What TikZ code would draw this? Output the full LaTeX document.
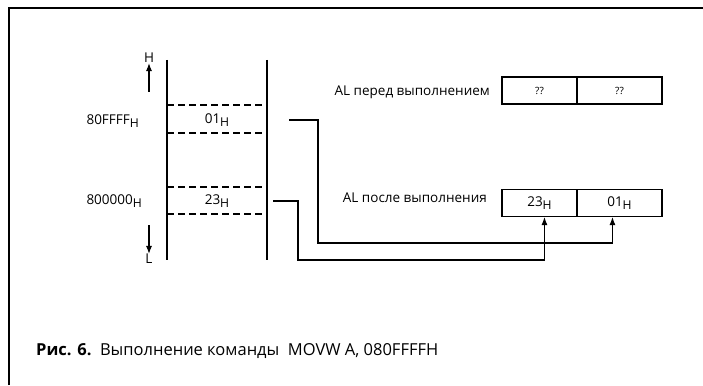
\documentclass[tikz,border=0pt]{standalone}
\usepackage{fontspec}
\setmainfont{Open Sans}
\usetikzlibrary{arrows.meta, positioning, calc}

\newcommand{\hsub}[1]{\raisebox{-0.5ex}{\scalebox{0.9}{#1}}}

\begin{document}
\begin{tikzpicture}[
    x=1pt, y=-1pt,
    line/.style={line width=1.1pt},
    arrow/.style={line width=1.1pt, -{Latex[length=8pt,width=6pt]}},
    cellline/.style={line width=1.1pt, dash pattern=on 7pt off 4pt},
    lbl/.style={font=\fontsize{13.5}{15}\selectfont, inner sep=0pt},
    regbox/.style={draw, line width=1.1pt, minimum height=27pt, inner sep=0pt, font=\fontsize{13.5}{15}\selectfont}
]
    \useasboundingbox (0,0) rectangle (703,385);

    % frame
    \draw[line] (9,385) -- (9,8) -- (703,8);

    % memory column
    \draw[line] (167,60) -- (167,260);
    \draw[line] (267,60) -- (267,260);
    \draw[cellline] (167,105) -- (267,105);
    \draw[cellline] (167,133) -- (267,133);
    \draw[cellline] (167,187) -- (267,187);
    \draw[cellline] (167,214) -- (267,214);
    \node[lbl] (m01) at (217,120) {01\hsub{H}};
    \node[lbl] (m23) at (217,201) {23\hsub{H}};
    \node[lbl, anchor=east] (adr1) at (139,121) {80FFFF\hsub{H}};
    \node[lbl, anchor=east] (adr0) at (142,201) {800000\hsub{H}};

    % H / L direction
    \node[lbl] (hi) at (149,58) {H};
    \node[lbl] (lo) at (149,259) {L};
    \coordinate (hiS) at (149,92);
    \coordinate (loS) at (149,225);
    \draw[arrow] (hiS) -- (hi.south);
    \draw[arrow] (loS) -- (lo.north);

    % AL before
    \node[regbox, minimum width=75pt] (pre23) at (539.5,90.5) {\fontsize{10}{11}\selectfont ??};
    \node[regbox, minimum width=85pt, right=0pt of pre23, xshift=-1.1pt] (pre01) {\fontsize{10}{11}\selectfont ??};
    \node[lbl, anchor=east] (preL) at (490,92) {AL перед выполнением};

    % AL after
    \node[regbox, minimum width=75pt] (post23) at (539.5,203) {23\hsub{H}};
    \node[regbox, minimum width=85pt, right=0pt of post23, xshift=-1.1pt] (post01) {01\hsub{H}};
    \node[lbl, anchor=east] (postL) at (487,198) {AL после выполнения};

    % transfers
    \coordinate (s01) at (289,120);
    \coordinate (s23) at (273,201);
    \coordinate (a01) at ($(post01.south west)+(36,0)$);
    \coordinate (a23) at ($(post23.south west)+(43,0)$);
    \draw[arrow] (s01) -- (318,120) -- (318,243) -| (a01);
    \draw[arrow] (s23) -- (298,201) -- (298,260) -| (a23);

    % caption
    \node[anchor=base west, inner sep=0pt, font=\fontsize{16.5}{18}\selectfont] (cap) at (36,355)
        {\textbf{Рис. 6.}\ \ Выполнение команды\ \ MOVW A, 080FFFFH};
\end{tikzpicture}
\end{document}
